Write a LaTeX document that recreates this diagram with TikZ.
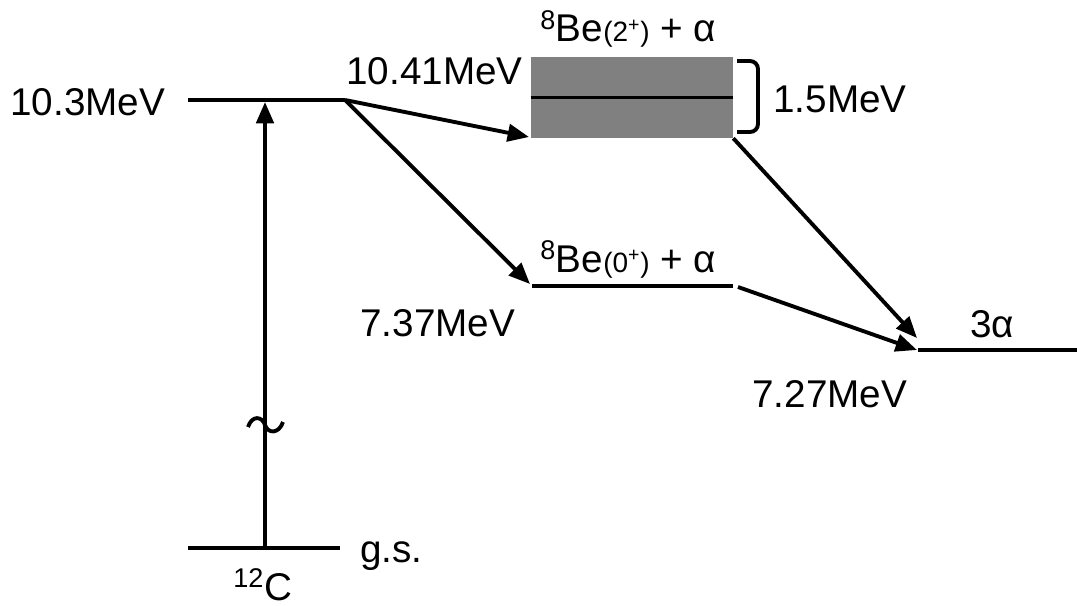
\documentclass[tikz,border=0pt]{standalone}
\usepackage{fontspec}
\setmainfont{Liberation Sans}
\usetikzlibrary{arrows.meta,positioning,calc}
\definecolor{bandgray}{HTML}{808080}

\begin{document}
\begin{tikzpicture}[
  x=0.75pt, y=-0.75pt,
  font=\fontsize{29}{32}\selectfont,
  >={Triangle[length=16pt,width=13pt]},
  level/.style={line width=2.9pt, draw=black},
  trans/.style={->, line width=2.9pt, draw=black},
  lbl/.style={inner sep=0pt, anchor=base west},
  band/.style={
    fill=bandgray,
    draw=none,
    minimum width=151.5pt,
    minimum height=60.75pt,
    inner sep=0pt
  }
]
  \useasboundingbox (0,0) rectangle (1077,606);

  % 12C levels
  \coordinate (exL) at (188,100);
  \coordinate (exR) at (345,100);
  \coordinate (gsL) at (188,548);
  \coordinate (gsR) at (340,548);
  \coordinate (gsC) at (265,548);
  \coordinate (exC) at (265,102);
  \draw[level] (exL) -- (exR);
  \draw[level] (gsL) -- (gsR);
  \draw[trans] (gsC) -- (exC);
  % break mark on the excitation arrow
  \draw[line width=2.9pt] (248,427) .. controls (252,415) and (262,416) .. (265,425)
    .. controls (268,434) and (279,434) .. (283,422);

  \node[lbl] (lblEx) at (10,116) {10.3MeV};
  \node[lbl] (lblGs) at (360,562) {g.s.};
  \node[lbl] (lblC) at (233,600) {\textsuperscript{12}C};

  % 8Be(2+) + alpha band
  \node[band] (be2) at (632,97.5) {};
  \draw[level] (be2.west) -- (be2.east);
  \draw[line width=2.9pt, rounded corners=6pt]
    (737,61) -- (758,61) -- (758,132) -- (737,132);
  \node[lbl] (lblBe2) at (540,42) {\textsuperscript{8}Be{\fontsize{21}{21}\selectfont(2\textsuperscript{+})} + α};
  \node[inner sep=0pt, anchor=base east] (lblE2) at (523,85) {10.41MeV};
  \node[lbl] (lblW) at (773,113) {1.5MeV};

  % 8Be(0+) + alpha level
  \coordinate (be0L) at (532,286);
  \coordinate (be0R) at (733,286);
  \draw[level] (be0L) -- (be0R);
  \node[lbl] (lblBe0) at (540,272) {\textsuperscript{8}Be{\fontsize{21}{21}\selectfont(0\textsuperscript{+})} + α};
  \node[lbl] (lblE0) at (360,336) {7.37MeV};

  % 3 alpha threshold
  \coordinate (aL) at (918,350);
  \coordinate (aR) at (1077,350);
  \draw[level] (aL) -- (aR);
  \node[lbl] (lbl3a) at (970,337) {3α};
  \node[lbl] (lblE3) at (752,407) {7.27MeV};

  % Decay arrows
  \coordinate (be2in) at (529,137);
  \coordinate (be0in) at (530,284);
  \coordinate (be0out) at (738,287);
  \coordinate (aTop) at (917,338);
  \coordinate (aIn) at (917,350);
  \draw[trans] (exR) -- (be2in);
  \draw[trans] (exR) -- (be0in);
  \draw[trans] (be2.south east) -- (aTop);
  \draw[trans] (be0out) -- (aIn);

\end{tikzpicture}
\end{document}
